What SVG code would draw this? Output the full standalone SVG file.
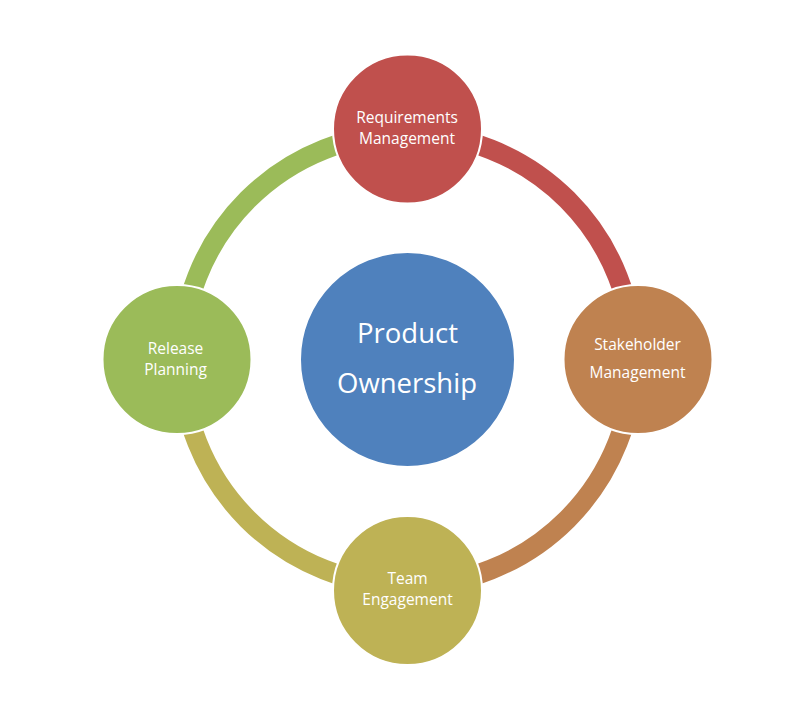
<svg xmlns="http://www.w3.org/2000/svg" width="807" height="705" viewBox="0 0 807 705">
  <style>
    .arc { fill: none; stroke-width: 20; }
    .node { stroke: #FFFFFF; stroke-width: 2; }
    .lbl { font-family: "Open Sans", "Liberation Sans", sans-serif; font-size: 15.5px; fill: #FFFFFF; text-anchor: middle; }
    .big { font-family: "Open Sans", "Liberation Sans", sans-serif; font-size: 27.5px; fill: #FFFFFF; text-anchor: middle; }
  </style>
  <rect width="807" height="705" fill="#FFFFFF"/>
  <g id="connectors">
    <path class="arc" stroke="#C0504D" d="M407.5,133.5 A226,226 0 0 1 633.5,359.5"/>
    <path class="arc" stroke="#BF8250" d="M633.5,359.5 A226,226 0 0 1 407.5,585.5"/>
    <path class="arc" stroke="#BEB255" d="M407.5,585.5 A226,226 0 0 1 181.5,359.5"/>
    <path class="arc" stroke="#9BBB59" d="M181.5,359.5 A226,226 0 0 1 407.5,133.5"/>
  </g>
  <g id="product-ownership">
    <circle class="node" cx="407.5" cy="359.5" r="107.5" fill="#4F81BD"/>
    <text class="big" x="407.5" y="343">Product</text>
    <text class="big" x="407" y="393">Ownership</text>
  </g>
  <g id="requirements-management">
    <circle class="node" cx="407.5" cy="129" r="74.5" fill="#C0504D"/>
    <text class="lbl" x="407" y="122.5">Requirements</text>
    <text class="lbl" x="407" y="143.5">Management</text>
  </g>
  <g id="stakeholder-management">
    <circle class="node" cx="638" cy="359.5" r="74.5" fill="#BF8250"/>
    <text class="lbl" x="637.5" y="350">Stakeholder</text>
    <text class="lbl" x="637.5" y="378">Management</text>
  </g>
  <g id="team-engagement">
    <circle class="node" cx="407.5" cy="590.5" r="74.5" fill="#BEB255"/>
    <text class="lbl" x="407.5" y="584">Team</text>
    <text class="lbl" x="407.5" y="605">Engagement</text>
  </g>
  <g id="release-planning">
    <circle class="node" cx="177" cy="359.5" r="74.5" fill="#9BBB59"/>
    <text class="lbl" x="175.5" y="353.5">Release</text>
    <text class="lbl" x="175.5" y="374.5">Planning</text>
  </g>
</svg>
